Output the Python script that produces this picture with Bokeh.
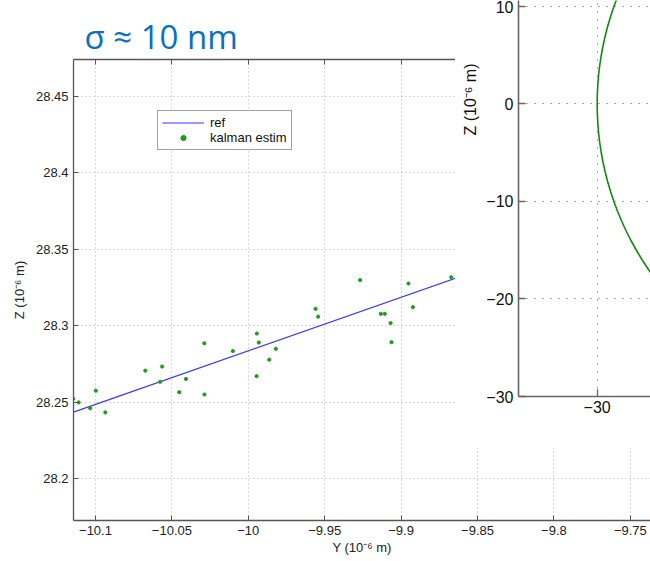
from bokeh.plotting import figure
from bokeh.models import LinearAxis, FixedTicker, Range1d, Legend, LegendItem, Label
from bokeh.layouts import column
from bokeh.embed import file_html
from bokeh.resources import INLINE

# ---------------- data ----------------
title_text = "σ ≈ 10 nm"

# main (zoomed) panel: Kalman estimates and reference trajectory, in 10^-6 m
kalman_y = [-10.1146, -10.1110, -10.1035, -10.0998, -10.0936, -10.0674, -10.0577,
            -10.0564, -10.0452, -10.0408, -10.0288, -10.0287, -10.0101, -9.9944,
            -9.9946, -9.9931, -9.9863, -9.9820, -9.9560, -9.9543, -9.9268,
            -9.9133, -9.9107, -9.9069, -9.9063, -9.8952, -9.8923, -9.8672]
kalman_z = [28.2523, 28.2499, 28.2461, 28.2576, 28.2434, 28.2707, 28.2634,
            28.2734, 28.2566, 28.2653, 28.2886, 28.2551, 28.2835, 28.2950,
            28.2671, 28.2891, 28.2779, 28.2850, 28.3111, 28.3060, 28.3299,
            28.3079, 28.3079, 28.3018, 28.2893, 28.3277, 28.3122, 28.3318]
ref_y = [-10.1144, -9.7368]
ref_z = [28.2436, 28.3759]

main_x_ticks = [-10.1, -10.05, -10.0, -9.95, -9.9, -9.85, -9.8, -9.75]
main_x_labels = ["−10.1", "−10.05", "−10", "−9.95", "−9.9", "−9.85", "−9.8", "−9.75"]
main_y_ticks = [28.2, 28.25, 28.3, 28.35, 28.4, 28.45]
main_y_labels = ["28.2", "28.25", "28.3", "28.35", "28.4", "28.45"]

# inset panel: full orbit (left part), in 10^-6 m
orbit_z = [20, 19, 18, 17, 16, 15, 14, 13, 12, 11, 10, 9, 8, 7, 6, 5, 4, 3, 2, 1, 0,
           -1, -2, -3, -4, -5, -6, -7, -8, -9, -10, -11, -12, -13, -14, -15, -16,
           -17, -18, -19, -20]
orbit_y = [-22.361, -23.216, -24.000, -24.718, -25.377, -25.981, -26.533, -27.037,
           -27.495, -27.911, -28.284, -28.618, -28.914, -29.172, -29.394, -29.580,
           -29.732, -29.850, -29.933, -29.983, -30.000, -29.983, -29.933, -29.850,
           -29.732, -29.580, -29.394, -29.172, -28.914, -28.618, -28.284, -27.911,
           -27.495, -27.037, -26.533, -25.981, -25.377, -24.718, -24.000, -23.216,
           -22.361]

inset_x_ticks = [-40, -30, -20]
inset_x_labels = ["−40", "−30", "−20"]
inset_y_ticks = [-30, -20, -10, 0, 10, 20, 30]
inset_y_labels = ["−30", "−20", "−10", "0", "10", "20", "30"]
axis_label_y = "Y (10⁻⁶ m)"
axis_label_z = "Z (10⁻⁶ m)"

FONT = "Liberation Sans"
AX_COL = "#555555"

# ---------------- main panel ----------------
p = figure(width=650, height=561, output_backend="svg", toolbar_location=None,
           title=None,
           x_range=Range1d(-10.1144, -9.7368), y_range=Range1d(28.1727, 28.4742),
           min_border_left=73, min_border_right=0, min_border_top=59,
           min_border_bottom=41)
p.outline_line_color = None
p.background_fill_color = "white"
p.border_fill_color = "white"

bottom_axis = p.below[0]
left_axis = p.left[0]
bottom_axis.axis_label = axis_label_y
left_axis.axis_label = axis_label_z

bottom_axis.ticker = FixedTicker(ticks=main_x_ticks)
bottom_axis.major_label_overrides = dict(zip(main_x_ticks, main_x_labels))
left_axis.ticker = FixedTicker(ticks=main_y_ticks)
left_axis.major_label_overrides = dict(zip(main_y_ticks, main_y_labels))

# top box edge of the zoomed panel (ticks only, labels hidden)
top_axis = LinearAxis(ticker=FixedTicker(ticks=main_x_ticks),
                      major_label_text_font_size="9.5px",
                      major_label_text_color=None, major_label_standoff=0)
p.add_layout(top_axis, "above")

for ax in [bottom_axis, left_axis, top_axis]:
    ax.axis_line_color = AX_COL
    ax.axis_line_width = 1.3
    ax.major_tick_line_color = AX_COL
    ax.major_tick_in = 5
    ax.major_tick_out = 0
    ax.minor_tick_line_color = None
for ax in [bottom_axis, left_axis]:
    ax.major_label_text_font = FONT
    ax.major_label_text_color = "#222222"
    ax.major_label_text_font_size = "13px"
    ax.axis_label_text_font = FONT
    ax.axis_label_text_font_size = "13px"
    ax.axis_label_text_font_style = "normal"
    ax.axis_label_text_color = "#222222"
bottom_axis.major_label_standoff = 5
bottom_axis.axis_label_standoff = 2
left_axis.major_label_standoff = 5
left_axis.axis_label_standoff = 6

for g in [p.xgrid[0], p.ygrid[0]]:
    g.grid_line_color = "#b5b5b5"
    g.grid_line_dash = "1 3"
    g.grid_line_width = 1

r_ref = p.line(ref_y, ref_z, line_color="#3838ff", line_width=1.2)
r_k = p.scatter(kalman_y, kalman_z, size=3.2, fill_color="#1f9a1f",
                line_color="#1f9a1f")

legend = Legend(items=[LegendItem(label="ref", renderers=[r_ref]),
                       LegendItem(label="kalman estim", renderers=[r_k])],
                location=(84, 370), margin=0, padding=4, spacing=-2,
                glyph_width=42, glyph_height=13, label_height=13,
                label_standoff=6, label_text_font=FONT,
                label_text_font_size="13px", label_text_line_height=1.0,
                label_text_color="#111111",
                border_line_color="#444444", border_line_width=1,
                background_fill_color="white")
p.add_layout(legend)

# ---------------- slide title (transparent strip over the top border) ----------------
t = figure(width=650, height=55, output_backend="svg", toolbar_location=None,
           title=None, x_range=Range1d(0, 1), y_range=Range1d(0, 1),
           min_border_left=73, min_border_right=0, min_border_top=0,
           min_border_bottom=0)
t.axis.visible = False
t.grid.visible = False
t.outline_line_color = None
t.background_fill_color = None
t.border_fill_color = None
t.styles = {"position": "absolute", "left": "0px", "top": "0px", "z-index": "5"}
t.add_layout(Label(x=11, y=19, x_units="screen", y_units="screen",
                   text=title_text, text_font="Open Sans", text_font_size="33px",
                   text_color="#0a70c2", text_baseline="alphabetic",
                   text_align="left"))

# ---------------- inset panel ----------------
q = figure(frame_width=132, frame_height=396, output_backend="svg",
           toolbar_location=None, title=axis_label_z, title_location="left",
           x_range=Range1d(-38.07, -24.53), y_range=Range1d(-30, 10.615),
           min_border_left=73, min_border_right=0, min_border_top=0,
           min_border_bottom=52)
q.styles = {"position": "absolute", "left": "445px", "top": "0px",
            "z-index": "10", "clip-path": "inset(0px 0px 0px 10px)"}
q.outline_line_color = None
q.background_fill_color = "white"
q.border_fill_color = "white"

q.title.text_font = FONT
q.title.text_font_size = "16px"
q.title.text_font_style = "normal"
q.title.text_color = "#111111"
q.title.align = "right"
q.title.offset = 63
q.title.standoff = 10

q.xaxis.ticker = FixedTicker(ticks=inset_x_ticks)
q.xaxis.major_label_overrides = dict(zip(inset_x_ticks, inset_x_labels))
q.yaxis.ticker = FixedTicker(ticks=inset_y_ticks)
q.yaxis.major_label_overrides = dict(zip(inset_y_ticks, inset_y_labels))
for ax in [q.xaxis[0], q.yaxis[0]]:
    ax.axis_line_color = "#666666"
    ax.axis_line_width = 1.6
    ax.major_tick_line_color = "#666666"
    ax.major_tick_line_width = 1.3
    ax.major_tick_in = 7
    ax.major_tick_out = 0
    ax.minor_tick_line_color = None
    ax.major_label_text_font = FONT
    ax.major_label_text_font_size = "16px"
    ax.major_label_text_color = "#111111"
q.xaxis.major_label_standoff = 4
q.yaxis.major_label_standoff = 5

for g in [q.xgrid[0], q.ygrid[0]]:
    g.grid_line_color = "#555555"
    g.grid_line_dash = "1 7"
    g.grid_line_width = 1

q.line(orbit_y, orbit_z, line_color="#118a11", line_width=1.6)

root = column(p, t, q)
open("out.html", "w").write(file_html(root, INLINE))
